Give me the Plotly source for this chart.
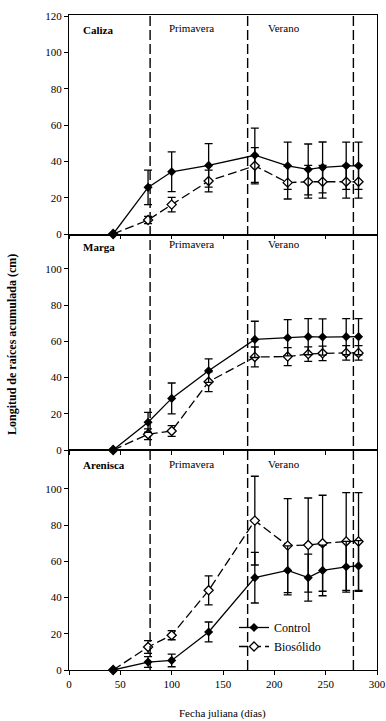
import plotly.graph_objects as go

days = [43, 77, 100, 136, 181, 213, 233, 247, 270, 282]

caliza_control = [0, 25.7, 34.3, 37.8, 43.4, 37.6, 35.6, 36.7, 37.6, 37.6]
caliza_control_err = [0, 9.5, 11, 12, 15, 13, 14, 14, 13, 13]
caliza_bios = [0, 7.7, 16.2, 29.2, 37.6, 28.3, 28.8, 28.8, 28.8, 28.8]
caliza_bios_err = [0, 2, 4, 6, 10, 9, 9, 9, 9, 9]

marga_control = [0, 15.3, 28.5, 43.8, 61.1, 62.0, 62.6, 62.4, 62.6, 62.6]
marga_control_err = [0, 5.5, 8.5, 6.5, 10, 10, 10, 10, 10, 10]
marga_bios = [0, 8.7, 10.5, 37.7, 51.4, 51.6, 53.0, 53.4, 53.6, 53.6]
marga_bios_err = [0, 3, 3, 5.5, 5.5, 5, 4, 4, 4, 4]

arenisca_control = [0, 4.4, 5.3, 21, 51, 55, 51, 55, 57, 57.5]
arenisca_control_err = [0, 3, 3.5, 5.5, 14, 13.5, 13, 14, 14, 14]
arenisca_bios = [0, 12.7, 19.2, 44, 82.5, 68.7, 69, 70, 71, 71]
arenisca_bios_err = [0, 3.5, 2.5, 8, 24.5, 26, 26, 26.5, 27, 27]

season_bounds = [79, 174, 277]
panel_names = ["Caliza", "Marga", "Arenisca"]
x_ticks = [0, 50, 100, 150, 200, 250, 300]

FONT = "Liberation Serif, Times New Roman, serif"
fig = go.Figure()

panels = [
    (caliza_control, caliza_control_err, caliza_bios, caliza_bios_err, "x3", "y3"),
    (marga_control, marga_control_err, marga_bios, marga_bios_err, "x2", "y2"),
    (arenisca_control, arenisca_control_err, arenisca_bios, arenisca_bios_err, "x", "y"),
]
for i, (c, ce, b, be, xa, ya) in enumerate(panels):
    last = (i == 2)
    fig.add_trace(go.Scatter(
        x=days, y=b, xaxis=xa, yaxis=ya, mode="lines+markers", name="Biosólido",
        line=dict(color="black", width=1.3, dash="9px,4px"),
        marker=dict(symbol="diamond", size=7, color="white", line=dict(color="black", width=1.3)),
        error_y=dict(type="data", array=be, color="black", thickness=1.3, width=4),
        showlegend=last, legendrank=2, cliponaxis=False))
    fig.add_trace(go.Scatter(
        x=days, y=c, xaxis=xa, yaxis=ya, mode="lines+markers", name="Control",
        line=dict(color="black", width=1.3),
        marker=dict(symbol="diamond", size=7, color="black"),
        error_y=dict(type="data", array=ce, color="black", thickness=1.3, width=4),
        showlegend=last, legendrank=1, cliponaxis=False))

H = 655.0
def py(p):
    return (670 - p) / H
def px(p):
    return (p - 69) / 308.0

axis_common = dict(showline=True, linecolor="black", linewidth=1.3, mirror=True,
                   showgrid=False, zeroline=False, ticks="outside", ticklen=4,
                   tickcolor="black", tickwidth=1.2, automargin=False,
                   tickfont=dict(family=FONT, size=11, color="black"))

fig.update_layout(
    width=386, height=721,
    margin=dict(l=69, r=9, t=15, b=51, autoexpand=False),
    paper_bgcolor="white", plot_bgcolor="white",
    xaxis=dict(range=[0, 300], tickvals=x_ticks, domain=[0, 1], anchor="y", **axis_common),
    xaxis2=dict(range=[0, 300], tickvals=x_ticks, domain=[0, 1], anchor="y2",
                showticklabels=False, **axis_common),
    xaxis3=dict(range=[0, 300], tickvals=x_ticks, domain=[0, 1], anchor="y3",
                showticklabels=False, **axis_common),
    yaxis=dict(range=[0, 121.5], tickvals=[0, 20, 40, 60, 80, 100], domain=[0, py(450)],
               anchor="x", **axis_common),
    yaxis2=dict(range=[0, 118.2], tickvals=[0, 20, 40, 60, 80, 100], domain=[py(450), py(236)],
                anchor="x2", **axis_common),
    yaxis3=dict(range=[0, 120.7], tickvals=[0, 20, 40, 60, 80, 100, 120], domain=[py(234), 1],
                anchor="x3", **axis_common),
    showlegend=True,
    legend=dict(x=px(234), y=py(613), xanchor="left", yanchor="top",
                bgcolor="rgba(0,0,0,0)", font=dict(family=FONT, size=12, color="black"),
                itemwidth=30, tracegroupgap=0, traceorder="normal"),
)

for xb in season_bounds:
    fig.add_shape(type="line", xref="x", yref="paper", x0=xb, x1=xb, y0=0, y1=1,
                  line=dict(color="black", width=1.4, dash="10px,4px"))

label_y = [30, 246.5, 465]
season_y = [28, 244, 464]
for name, ly, sy in zip(panel_names, label_y, season_y):
    fig.add_annotation(text=f"<b>{name}</b>", xref="paper", yref="paper", x=px(81), y=py(ly),
                       xanchor="left", yanchor="middle", showarrow=False,
                       font=dict(family=FONT, size=11, color="black"))
    fig.add_annotation(text="Primavera", xref="paper", yref="paper", x=px(191), y=py(sy),
                       xanchor="center", yanchor="middle", showarrow=False,
                       font=dict(family=FONT, size=11, color="black"))
    fig.add_annotation(text="Verano", xref="paper", yref="paper", x=px(284), y=py(sy),
                       xanchor="center", yanchor="middle", showarrow=False,
                       font=dict(family=FONT, size=11, color="black"))

fig.add_annotation(text="<b>Longitud de raíces acumulada (cm)</b>", xref="paper", yref="paper",
                   x=px(12), y=py(345), textangle=-90, xanchor="center", yanchor="middle",
                   showarrow=False, font=dict(family=FONT, size=12, color="black"))
fig.add_annotation(text="Fecha juliana (días)", xref="paper", yref="paper",
                   x=px(222), y=py(713), xanchor="center", yanchor="middle",
                   showarrow=False, font=dict(family=FONT, size=11, color="black"))

fig.write_html("out.html", config={"displayModeBar": False},
               post_script="document.body.style.margin='0';document.body.style.overflow='hidden';")
